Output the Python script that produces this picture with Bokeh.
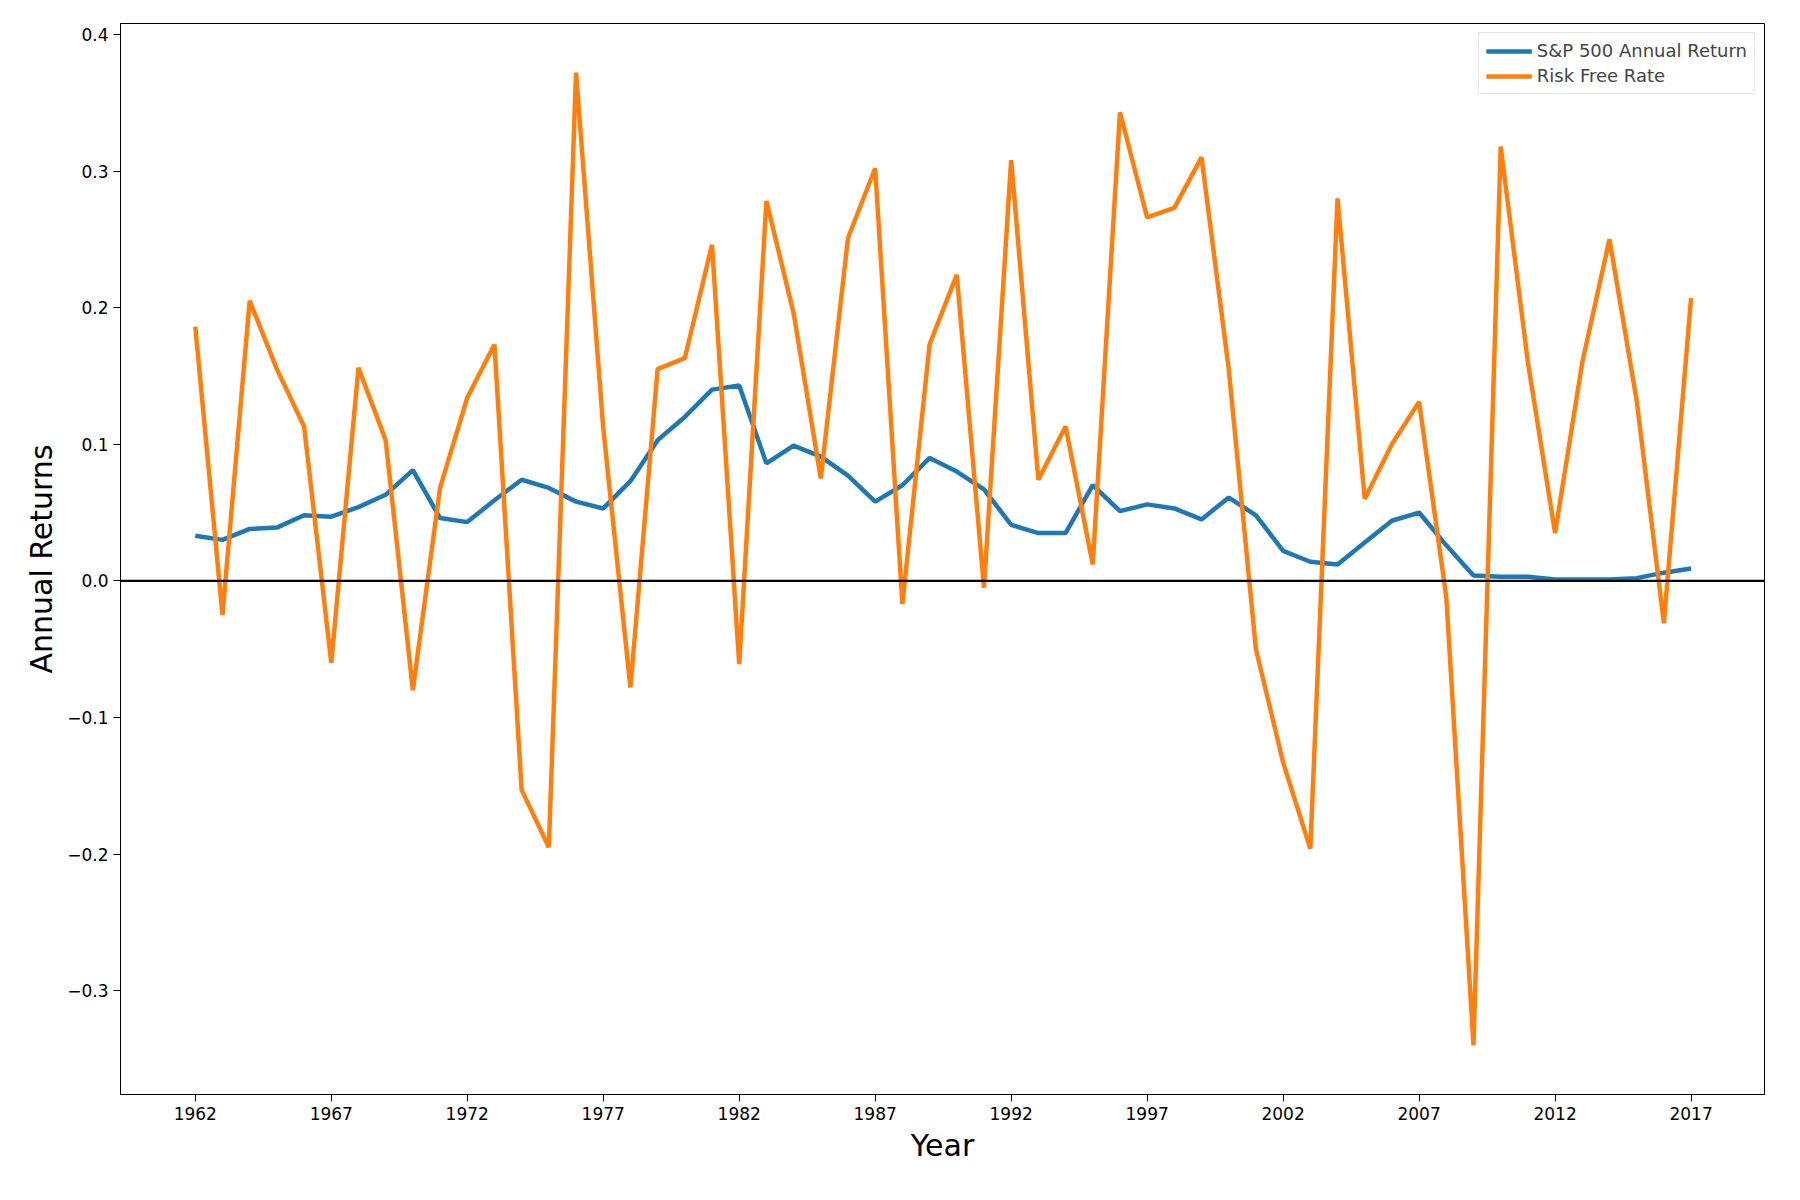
from bokeh.plotting import figure
from bokeh.models import Span, FixedTicker, Range1d, Legend, LegendItem
from bokeh.embed import file_html
from bokeh.resources import INLINE

years = list(range(1962, 2018))
sp500 = [0.033,0.030,0.038,0.039,0.048,0.047,0.054,0.063,0.081,0.046,0.043,0.059,0.074,0.068,0.058,0.053,0.073,0.103,0.120,0.140,
         0.143,0.086,0.099,0.091,0.077,0.058,0.070,0.090,0.080,0.067,0.041,0.035,0.035,0.070,0.051,0.056,0.053,0.045,0.061,0.048,
         0.022,0.014,0.012,0.028,0.044,0.050,0.026,0.004,0.003,0.003,0.001,0.001,0.001,0.002,0.006,0.009]
rf = [0.186,-0.025,0.205,0.155,0.113,-0.060,0.156,0.103,-0.080,0.068,0.134,0.173,-0.153,-0.195,0.372,0.112,-0.078,0.155,0.163,0.246,
      -0.061,0.278,0.196,0.075,0.251,0.302,-0.017,0.173,0.224,-0.005,0.308,0.074,0.113,0.012,0.343,0.266,0.273,0.310,0.155,-0.050,
      -0.133,-0.196,0.280,0.060,0.100,0.131,-0.012,-0.340,0.318,0.160,0.035,0.160,0.250,0.132,-0.031,0.207]
xticks = list(range(1962, 2018, 5))
yticks = [-0.3,-0.2,-0.1,0.0,0.1,0.2,0.3,0.4]

p = figure(width=1784, height=1184, output_backend="svg", toolbar_location=None,
           x_range=Range1d(1959.25, 2019.7), y_range=Range1d(-0.376, 0.408),
           min_border_left=120, min_border_right=20, min_border_top=23, min_border_bottom=90)
p.grid.visible = False
p.outline_line_color = "black"
r1 = p.line(years, sp500, color="#1f77b4", line_width=4.5)
r2 = p.line(years, rf, color="#ff7f0e", line_width=4.5)
p.add_layout(Span(location=0, dimension="width", line_color="black", line_width=2.3))

p.xaxis.ticker = FixedTicker(ticks=xticks)
p.yaxis.ticker = FixedTicker(ticks=yticks)
p.yaxis.major_label_overrides = {t: (f"{t:.1f}".replace("-", "\u2212")) for t in yticks}
for ax in (p.xaxis, p.yaxis):
    ax.axis_line_color = "black"
    ax.major_tick_out = 7
    ax.major_tick_in = 0
    ax.minor_tick_line_color = None
    ax.major_label_text_font_size = "17px"
    ax.major_label_text_font = "DejaVu Sans"
    ax.major_label_text_color = "black"
    ax.axis_label_text_font = "DejaVu Sans"
    ax.axis_label_text_font_style = "normal"
    ax.axis_label_text_font_size = "30px"
    ax.axis_label_text_color = "black"
p.xaxis.axis_label = "Year"
p.yaxis.axis_label = "Annual Returns"

leg = Legend(items=[LegendItem(label="S&P 500 Annual Return", renderers=[r1]),
                    LegendItem(label="Risk Free Rate", renderers=[r2])],
             location="top_right", label_text_font="DejaVu Sans", label_text_font_size="18px",
             border_line_color="#cccccc", spacing=4, padding=7, glyph_width=46, margin=9)
p.add_layout(leg)

open("out.html", "w").write(file_html(p, INLINE))
